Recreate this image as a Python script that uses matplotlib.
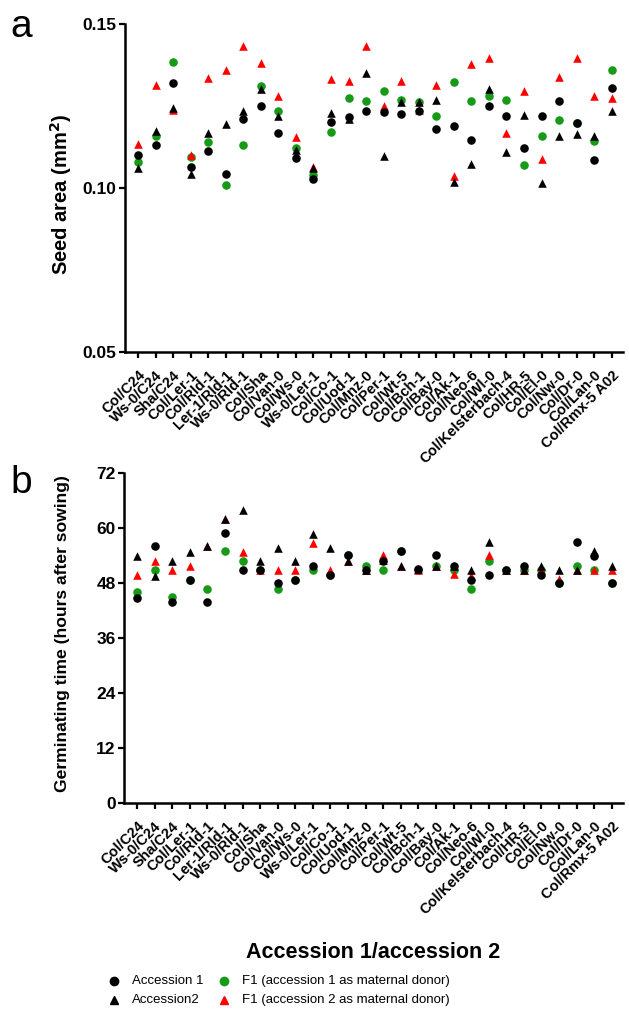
import matplotlib
matplotlib.use("Agg")
import matplotlib.pyplot as plt
from matplotlib.lines import Line2D
import numpy as np

plt.rcParams['font.family'] = ['Liberation Sans', 'DejaVu Sans']

categories = ["Col/C24", "Ws-0/C24", "Sha/C24", "Col/Ler-1", "Col/Rld-1", "Ler-1/Rld-1",
              "Ws-0/Rld-1", "Col/Sha", "Col/Van-0", "Col/Ws-0", "Ws-0/Ler-1", "Col/Co-1",
              "Col/Uod-1", "Col/Mnz-0", "Col/Per-1", "Col/Wt-5", "Col/Bch-1", "Col/Bay-0",
              "Col/Ak-1", "Col/Neo-6", "Col/Wl-0", "Col/Kelsterbach-4", "Col/HR-5", "Col/El-0",
              "Col/Nw-0", "Col/Dr-0", "Col/Lan-0", "Col/Rmx-5 A02"]

seed_acc1 = [0.110, 0.1131, 0.1321, 0.1065, 0.1113, 0.1042, 0.1209, 0.1251, 0.1168, 0.1091,
             0.1027, 0.1202, 0.1216, 0.1236, 0.1231, 0.1226, 0.1236, 0.1181, 0.1188, 0.1145,
             0.1249, 0.1221, 0.1123, 0.1219, 0.1264, 0.1199, 0.1085, 0.1306]
seed_acc2 = [0.106, 0.1173, 0.1244, 0.1044, 0.1168, 0.1196, 0.1234, 0.1302, 0.1219, 0.1115,
             0.1062, 0.1229, 0.1209, 0.135, 0.1098, 0.1262, 0.1262, 0.1267, 0.1017, 0.1072,
             0.1302, 0.1111, 0.1224, 0.1014, 0.116, 0.1165, 0.1158, 0.1234]
seed_f1a = [0.1078, 0.1158, 0.1383, 0.1093, 0.114, 0.101, 0.113, 0.1311, 0.1236, 0.1123,
            0.104, 0.117, 0.1273, 0.1264, 0.1296, 0.1269, 0.1262, 0.1221, 0.1322, 0.1264,
            0.1281, 0.1267, 0.1071, 0.1158, 0.1207, 0.1199, 0.1143, 0.136]
seed_f1b = [0.1133, 0.1315, 0.1239, 0.110, 0.1335, 0.136, 0.1432, 0.138, 0.1282, 0.1155,
            0.1065, 0.1333, 0.1327, 0.1433, 0.1249, 0.1327, 0.1239, 0.1313, 0.1038, 0.1378,
            0.1395, 0.1167, 0.1296, 0.1088, 0.1337, 0.1397, 0.1282, 0.1274]

germ_acc1 = [44.8, 56.0, 43.8, 48.7, 43.8, 58.9, 50.9, 50.9, 47.9, 48.7, 51.8, 49.8, 54.0, 50.9,
             52.8, 55.0, 51.1, 54.0, 51.8, 48.7, 49.8, 50.9, 51.8, 49.8, 47.9, 56.9, 53.9, 47.9]
germ_acc2 = [53.8, 49.6, 52.8, 54.7, 56.0, 61.9, 63.9, 52.8, 55.6, 52.8, 58.8, 55.6, 52.8, 50.9,
             53.0, 51.8, 51.1, 51.8, 51.8, 50.9, 56.9, 50.9, 50.9, 51.8, 50.9, 50.9, 55.0, 51.8]
germ_f1a = [46.0, 50.9, 44.9, 48.7, 46.8, 55.0, 52.8, 50.9, 46.8, 48.7, 50.9, 49.8, 54.0, 51.8,
            50.9, 55.0, 50.9, 51.8, 50.9, 46.8, 52.9, 50.9, 50.9, 50.9, 47.9, 51.8, 50.9, 47.9]
germ_f1b = [49.8, 52.8, 50.9, 51.8, 56.0, 61.9, 54.7, 50.9, 50.9, 50.9, 56.7, 50.9, 52.8, 50.9,
            54.0, 51.8, 50.9, 51.8, 50.0, 49.5, 54.0, 50.9, 50.9, 50.9, 48.9, 50.9, 50.9, 50.9]

seed_ticks = [0.05, 0.10, 0.15]
seed_ticklabels = ["0.05", "0.10", "0.15"]
germ_ticks = [0, 12, 24, 36, 48, 60, 72]

legend_labels = ["Accession 1", "Accession2", "F1 (accession 1 as maternal donor)",
                 "F1 (accession 2 as maternal donor)"]

GREEN = "#179a17"
RED = "#ff0000"
W, H = 629, 1013
fig = plt.figure(figsize=(W / 100, H / 100), dpi=100)


def fx(px):
    return px / W


def fy(py):
    return 1 - py / H


def px_axes(left, top, right, bottom):
    return fig.add_axes([left / W, 1 - bottom / H, (right - left) / W, (bottom - top) / H])


x = np.arange(len(categories))


def style(ax):
    for s in ["top", "right"]:
        ax.spines[s].set_visible(False)
    for s in ["left", "bottom"]:
        ax.spines[s].set_linewidth(1.8)
    ax.tick_params(axis="both", width=1.6, length=4.5, direction="out")
    ax.tick_params(axis="y", labelsize=12.5, pad=1.5)
    ax.set_xticks(x)
    ax.set_xticklabels(categories, rotation=45, ha="right", rotation_mode="anchor",
                       fontsize=10.5, fontweight="bold")
    ax.tick_params(axis="x", pad=7)
    for lab in ax.get_yticklabels():
        lab.set_fontweight("bold")
    ax.set_xlim(-0.74, 27.64)


def draw(ax, a1, a2, fa, fb):
    ms = 38
    ax.scatter(x, fa, s=ms, marker="o", color=GREEN, linewidths=0, zorder=3)
    ax.scatter(x, fb, s=ms, marker="^", color=RED, linewidths=0, zorder=3)
    ax.scatter(x, a1, s=ms, marker="o", color="black", linewidths=0, zorder=4)
    ax.scatter(x, a2, s=ms, marker="^", color="black", linewidths=0, zorder=4)


axa = px_axes(125, 24, 623, 352)
draw(axa, seed_acc1, seed_acc2, seed_f1a, seed_f1b)
axa.set_ylim(0.05, 0.15)
axa.set_yticks(seed_ticks)
axa.set_yticklabels(seed_ticklabels)
style(axa)

axb = px_axes(124, 473, 623, 803)
draw(axb, germ_acc1, germ_acc2, germ_f1a, germ_f1b)
axb.set_ylim(0, 72)
axb.set_yticks(germ_ticks)
style(axb)

fig.text(fx(61), fy(194), "Seed area (mm$^\\mathbf{2}$)", fontsize=14.5, fontweight="bold",
         rotation=90, ha="center", va="center")
fig.text(fx(63), fy(634), "Germinating time (hours after sowing)", fontsize=12.6,
         fontweight="bold", rotation=90, ha="center", va="center")

fig.text(fx(10), fy(37), "a", fontsize=28, va="baseline")
fig.text(fx(10), fy(493), "b", fontsize=28, va="baseline")
fig.text(fx(373), fy(952), "Accession 1/accession 2", fontsize=15.5, fontweight="bold",
         ha="center", va="center")

# legend (manual layout)
leg_items = [
    (114, 981, "o", "black", legend_labels[0]),
    (114, 1000, "^", "black", legend_labels[1]),
    (224, 981, "o", GREEN, legend_labels[2]),
    (224, 1000, "^", RED, legend_labels[3]),
]
for mx, my, mk, col, lab in leg_items:
    fig.add_artist(Line2D([fx(mx)], [fy(my)], transform=fig.transFigure, marker=mk,
                          color=col, linestyle="none", markersize=6))
    fig.text(fx(mx + 18), fy(my), lab, fontsize=9.5, ha="left", va="center")

fig.savefig("out.png", dpi=100)
